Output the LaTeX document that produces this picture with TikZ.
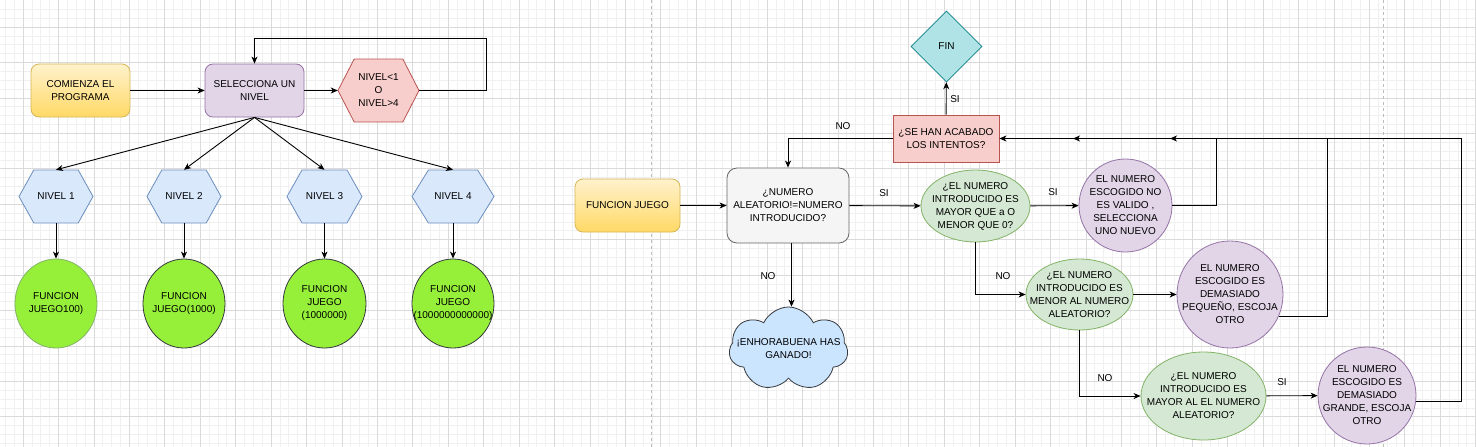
\documentclass[tikz,border=0pt]{standalone}
\usepackage{fontspec}
\setmainfont{Liberation Sans}
\usetikzlibrary{arrows.meta,shapes.geometric,shapes.symbols,calc}
\definecolor{yT}{HTML}{FFF2CC}
\definecolor{yB}{HTML}{FFD966}
\definecolor{yD}{HTML}{D6B656}
\definecolor{pF}{HTML}{E1D5E7}
\definecolor{pD}{HTML}{9673A6}
\definecolor{rF}{HTML}{F8CECC}
\definecolor{rD}{HTML}{B85450}
\definecolor{bF}{HTML}{DAE8FC}
\definecolor{bD}{HTML}{6C8EBF}
\definecolor{gF}{HTML}{D5E8D4}
\definecolor{gD}{HTML}{82B366}
\definecolor{lF}{HTML}{96F03A}
\definecolor{lD}{HTML}{36393D}
\definecolor{qF}{HTML}{F5F5F5}
\definecolor{qD}{HTML}{666666}
\definecolor{tF}{HTML}{B0E3E6}
\definecolor{tD}{HTML}{0E8088}
\definecolor{cF}{HTML}{CCE5FF}
\definecolor{minorgrid}{HTML}{F0F0F0}
\definecolor{majorgrid}{HTML}{DADADA}
\definecolor{pagebrk}{HTML}{BDBDBD}
\newcommand\hexat[6]{%
  \filldraw[fill=#5,draw=#6,line width=0.8pt]
    ({#1-#3/2},#2) -- ({#1-0.3*#3},{#2-#4/2}) -- ({#1+0.3*#3},{#2-#4/2})
    -- ({#1+#3/2},#2) -- ({#1+0.3*#3},{#2+#4/2}) -- ({#1-0.3*#3},{#2+#4/2}) -- cycle;}
\tikzset{
  base/.style={draw, line width=0.8pt, align=center, inner sep=0pt},
  yrect/.style={base, rounded corners=8pt, top color=yT, bottom color=yB, draw=yD},
  prect/.style={base, rounded corners=8pt, fill=pF, draw=pD},
  qrect/.style={base, rounded corners=10pt, fill=qF, draw=qD},
  rrect/.style={base, fill=rF, draw=rD},
  hexlbl/.style={align=center, inner sep=0pt},
  txt/.style={align=center, inner sep=0pt},
  gell/.style={base, ellipse, fill=gF, draw=gD},
  pcirc/.style={base, ellipse, fill=pF, draw=pD},
  lcirc/.style={base, ellipse, fill=lF, draw=lD},
  arr/.style={-{Stealth[length=7pt,width=6pt,inset=2pt]}, line width=0.9pt, draw=black},
  lbl/.style={inner sep=0pt}
}
\begin{document}
\begin{tikzpicture}[x=1pt,y=-1pt,font=\fontsize{10}{13}\selectfont]
\useasboundingbox (0,0) rectangle (1476,447);
\fill[white] (0,0) rectangle (1476,447);
% grid
\foreach \i in {0,...,166} \draw[minorgrid,line width=0.5pt] ({5.29+\i*8.857},0) -- ({5.29+\i*8.857},447);
\foreach \i in {0,...,50} \draw[minorgrid,line width=0.5pt] (0,{9.29+\i*8.857}) -- (1476,{9.29+\i*8.857});
\foreach \i in {0,...,41} \draw[majorgrid,line width=0.6pt] ({23+\i*35.43},0) -- ({23+\i*35.43},447);
\foreach \i in {0,...,12} \draw[majorgrid,line width=0.6pt] (0,{27+\i*35.43}) -- (1476,{27+\i*35.43});
\draw[pagebrk,line width=0.8pt,dash pattern=on 3pt off 3pt] (651,0) -- (651,447);
\draw[pagebrk,line width=0.8pt,dash pattern=on 3pt off 3pt] (1383,0) -- (1383,447);

% ---------- left diagram ----------
\node[yrect, minimum width=99, minimum height=53] (start) at (80.5,90.5) {COMIENZA EL\\PROGRAMA};
\node[prect, minimum width=99, minimum height=53] (sel) at (254.5,90.5) {SELECCIONA UN\\NIVEL};
\hexat{378.5}{90.5}{81}{63}{rF}{rD}
\node[hexlbl, minimum width=81, minimum height=63] (hr) at (378.5,90.5) {NIVEL<1\\O\\NIVEL>4};

\hexat{56}{196.5}{74}{53}{bF}{bD}
\node[hexlbl, minimum width=74, minimum height=53] (h1) at (56,196.5) {NIVEL 1};
\hexat{184}{196.5}{74}{53}{bF}{bD}
\node[hexlbl, minimum width=74, minimum height=53] (h2) at (184,196.5) {NIVEL 2};
\hexat{324.5}{196.5}{75}{53}{bF}{bD}
\node[hexlbl, minimum width=75, minimum height=53] (h3) at (324.5,196.5) {NIVEL 3};
\hexat{453}{196.5}{82}{53}{bF}{bD}
\node[hexlbl, minimum width=82, minimum height=53] (h4) at (453,196.5) {NIVEL 4};

\node[lcirc, draw=gD, minimum width=82, minimum height=89, label={[txt]center:{FUNCION\\JUEGO100)}}] (c1) at (56,303.5) {};
\node[lcirc, minimum width=82, minimum height=89, label={[txt]center:{FUNCION\\JUEGO(1000)}}] (c2) at (184,303.5) {};
\node[lcirc, minimum width=83, minimum height=89, label={[txt]center:{FUNCION\\JUEGO\\(1000000)}}] (c3) at (324.5,303.5) {};
\node[lcirc, minimum width=82, minimum height=89, label={[txt]center:{FUNCION\\JUEGO\\(1000000000000)}}] (c4) at (453,303.5) {};

\draw[arr] (start) -- (sel);
\draw[arr] (sel) -- (hr);
\coordinate (loopA) at (486,38);
\draw[arr] (hr.east) -| (loopA) -| (sel.north);
\foreach \h in {h1,h2,h3,h4} \draw[arr] (sel.south) -- (\h.north);
\draw[arr] (h1) -- (c1);
\draw[arr] (h2) -- (c2);
\draw[arr] (h3) -- (c3);
\draw[arr] (h4) -- (c4);

% ---------- right diagram ----------
\node[yrect, minimum width=105, minimum height=53] (fj) at (627.5,205.5) {FUNCION JUEGO};
\node[qrect, minimum width=122, minimum height=75] (q1) at (788,205.5) {¿NUMERO\\ALEATORIO!=NUMERO\\INTRODUCIDO?};
\node[gell, minimum width=109, minimum height=72, label={[txt]center:{¿EL NUMERO\\INTRODUCIDO ES\\MAYOR QUE a O\\MENOR QUE 0?}}] (e1) at (975.5,206) {};
\node[rrect, minimum width=106, minimum height=47] (pk) at (946,138.5) {¿SE HAN ACABADO\\LOS INTENTOS?};
\node[base, diamond, aspect=1, fill=tF, draw=tD, minimum width=71, minimum height=71] (fin) at (946.5,46.5) {FIN};
\node[base, cloud, cloud puffs=7, cloud puff arc=130, fill=cF, draw=lD, minimum width=119, minimum height=84, label={[txt]center:{¡ENHORABUENA HAS\\GANADO!}}] (cloud) at (788.5,349) {};
\node[pcirc, minimum width=93, minimum height=93, label={[txt]center:{EL NUMERO\\ESCOGIDO NO\\ES VALIDO ,\\SELECCIONA\\UNO NUEVO}}] (p1) at (1125.5,205.5) {};
\node[gell, minimum width=107, minimum height=71, label={[txt]center:{¿EL NUMERO\\INTRODUCIDO ES\\MENOR AL NUMERO\\ALEATORIO?}}] (e2) at (1079.5,294.5) {};
\node[pcirc, minimum width=106, minimum height=107, label={[txt]center:{EL NUMERO\\ESCOGIDO ES\\DEMASIADO\\PEQUEÑO, ESCOJA\\OTRO}}] (p2) at (1230,294.5) {};
\node[gell, minimum width=125, minimum height=88, label={[txt]center:{¿EL NUMERO\\INTRODUCIDO ES\\MAYOR AL EL NUMERO\\ALEATORIO?}}] (e3) at (1203.5,396) {};
\node[pcirc, minimum width=98, minimum height=97, label={[txt]center:{EL NUMERO\\ESCOGIDO ES\\DEMASIADO\\GRANDE, ESCOJA\\OTRO}}] (p3) at (1367,395.5) {};

\coordinate (r1) at (1216,138.5);
\coordinate (r2) at (1327,138.5);
\coordinate (r3) at (1461,138.5);
\coordinate (end2) at (1170,138.5);
\coordinate (end3) at (1073,138.5);

\draw[arr] (fj) -- (q1);
\draw[arr] (q1) -- (e1);
\draw[arr] (pk) -- (fin);
\draw[arr] (pk.west) -| (q1.north);
\draw[arr] ([xshift=3.5pt]q1.south) -- ([xshift=3.5pt]q1.south |- cloud.north);
\draw[arr] (e1) -- (p1);
\draw[arr] (e1.south) |- (e2.west);
\draw[arr] (e2) -- (p2);
\draw[arr] (e2.south) |- (e3.west);
\draw[arr] (e3) -- (p3);
\draw[arr] (p1.east) -| (r1) -- (pk.east);
\draw[arr] (p2.-24) -| (r2) -- (end2);
\draw[arr] (p3.-7) -| (r3) -- (end3);

\node[lbl] (lsi1) at (884,193) {SI};
\node[lbl] (lsi2) at (955,99) {SI};
\node[lbl] (lno1) at (843,126) {NO};
\node[lbl] (lno2) at (768,276) {NO};
\node[lbl] (lsi3) at (1053,192) {SI};
\node[lbl] (lno3) at (1003,276) {NO};
\node[lbl] (lno4) at (1105,378) {NO};
\node[lbl] (lsi4) at (1282,382) {SI};
\end{tikzpicture}
\end{document}
